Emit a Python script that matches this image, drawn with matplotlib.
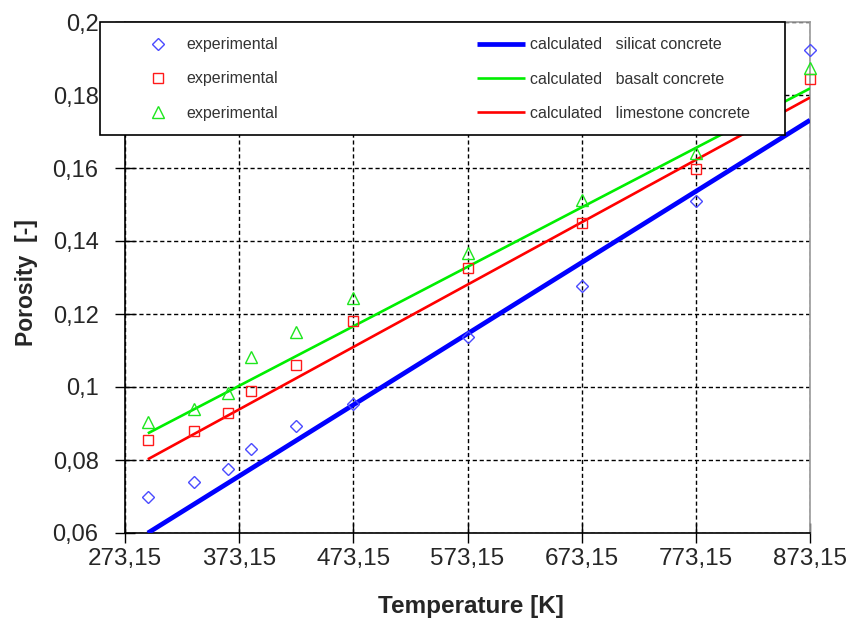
import matplotlib

matplotlib.use("Agg")
import matplotlib.pyplot as plt  # noqa: E402
from matplotlib.patches import Rectangle  # noqa: E402

plt.rcParams["font.family"] = ["Liberation Sans", "DejaVu Sans"]

# measured points (temperature in K)
temps_exp = [293.15, 333.15, 363.15, 383.15, 423.15, 473.15, 573.15, 673.15, 773.15, 873.15]
silicat_exp = [0.0698, 0.0739, 0.0775, 0.0831, 0.0894, 0.0953, 0.1138, 0.1277, 0.1510, 0.1923]
basalt_exp = [0.0903, 0.0939, 0.0984, 0.1083, 0.1152, 0.1243, 0.1366, 0.1512, 0.1642, 0.1874]
limestone_exp = [0.0855, 0.0880, 0.0928, 0.0990, 0.1061, 0.1181, 0.1325, 0.1449, 0.1597, 0.1844]

# calculated straight lines
temps_calc = [293.15, 873.15]
silicat_calc = [0.0600, 0.1731]
basalt_calc = [0.0873, 0.1818]
limestone_calc = [0.0802, 0.1793]

x_ticks = [273.15, 373.15, 473.15, 573.15, 673.15, 773.15, 873.15]
x_labels = ["273,15", "373,15", "473,15", "573,15", "673,15", "773,15", "873,15"]
y_ticks = [0.06, 0.08, 0.10, 0.12, 0.14, 0.16, 0.18, 0.20]
y_labels = ["0,06", "0,08", "0,1", "0,12", "0,14", "0,16", "0,18", "0,2"]

W, H = 850, 623
fig = plt.figure(figsize=(W / 100, H / 100), dpi=100)
ax = fig.add_axes([125 / W, 1 - 533 / H, 685 / W, 511 / H])

blue_m, red_m, green_m = "#4a4aff", "#ff1a1a", "#1ee61e"
txt = "#262626"

l_calc_s, = ax.plot(temps_calc, silicat_calc, color="#0000ff", lw=3.4, zorder=3,
                    solid_capstyle="butt", label="calculated   silicat concrete")
l_calc_b, = ax.plot(temps_calc, basalt_calc, color="#00ee00", lw=1.9, zorder=3,
                    solid_capstyle="butt", label="calculated   basalt concrete")
l_calc_l, = ax.plot(temps_calc, limestone_calc, color="#ff0000", lw=1.9, zorder=3,
                    solid_capstyle="butt", label="calculated   limestone concrete")

mk = dict(ls="none", mfc="none", mew=1.0, zorder=4, clip_on=False, label="experimental")
l_exp_s, = ax.plot(temps_exp, silicat_exp, marker="D", ms=6, mec=blue_m, **mk)
l_exp_l, = ax.plot(temps_exp, limestone_exp, marker="s", ms=7.5, mec=red_m, **mk)
l_exp_b, = ax.plot(temps_exp, basalt_exp, marker="^", ms=8, mec=green_m, **mk)

ax.set_xlim(273.15, 873.15)
ax.set_ylim(0.06, 0.2)
ax.set_xticks(x_ticks, x_labels)
ax.set_yticks(y_ticks, y_labels)
ax.tick_params(direction="inout", length=14, width=1, labelsize=17.5, labelcolor=txt)
ax.tick_params(axis="x", pad=3.5)
ax.tick_params(axis="y", pad=12, labelsize=17)
ax.grid(True, color="black", ls=(0, (3, 2)), lw=1.0)
ax.set_axisbelow(True)

for side in ("left", "bottom"):
    ax.spines[side].set_color("black")
    ax.spines[side].set_linewidth(1.2)
for side in ("top", "right"):
    ax.spines[side].set_color("#9a9a9a")
    ax.spines[side].set_linewidth(1.2)

ax.set_xlabel("Temperature [K]", fontsize=17.5, fontweight="bold", color=txt)
ax.set_ylabel("Porosity  [-]", fontsize=16.5, fontweight="bold", color=txt)
ax.xaxis.set_label_coords(0.505, (533 - 595) / 511)
ax.yaxis.set_label_coords((38 - 125) / 685, 0.49)

# legend: white box with two columns of entries
box = Rectangle((100 / W, 1 - 135 / H), 685 / W, 113 / H, transform=fig.transFigure,
                facecolor="white", edgecolor="black", lw=1.2, zorder=4.5, clip_on=False)
ax.add_patch(box)

leg_kw = dict(frameon=False, fontsize=11.5, handlelength=3.0, handletextpad=0.31,
              labelspacing=1.2, borderpad=0, borderaxespad=0, loc="center left",
              bbox_transform=fig.transFigure, labelcolor="#333333")
leg1 = ax.legend(handles=[l_exp_s, l_exp_l, l_exp_b], bbox_to_anchor=(134 / W, 1 - 79 / H),
                 **leg_kw)
ax.add_artist(leg1)
ax.legend(handles=[l_calc_s, l_calc_b, l_calc_l], bbox_to_anchor=(477 / W, 1 - 79 / H),
          **leg_kw)

fig.savefig("out.png", dpi=100)
plt.close(fig)
